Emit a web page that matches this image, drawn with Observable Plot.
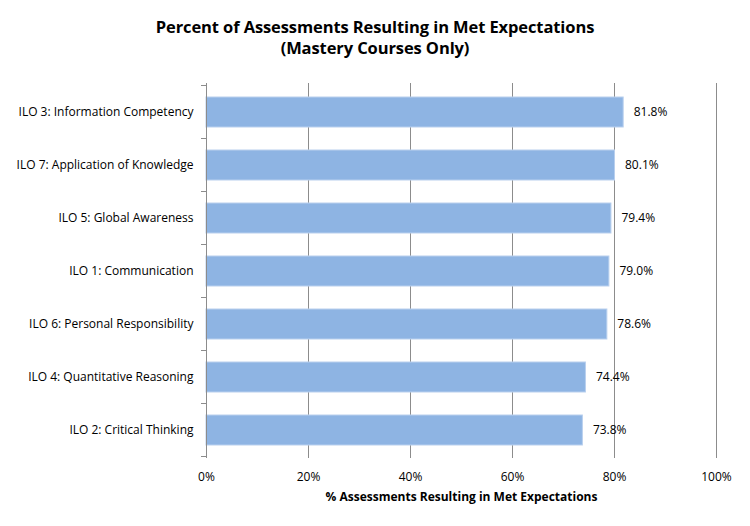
<!DOCTYPE html>
<html>
<head>
<meta charset="utf-8">
<script src="https://cdn.jsdelivr.net/npm/d3@7"></script>
<script src="https://cdn.jsdelivr.net/npm/@observablehq/plot@0.6"></script>
<style>
  body { margin: 0; background: #fff; width: 750px; }
  #title { font-family: "Open Sans", Lato, sans-serif; font-weight: bold; font-size: 16.5px; text-align: center; line-height: 21px; padding-top: 16px; height: 54px; color: #000; letter-spacing: -0.1px; }
  svg { display: block; }
</style>
</head>
<body>
<div id="title">Percent of Assessments Resulting in Met Expectations<br>(Mastery Courses Only)</div>
<div id="chart"></div>
<script>
const categories = [
  "ILO 3: Information Competency",
  "ILO 7: Application of Knowledge",
  "ILO 5: Global Awareness",
  "ILO 1: Communication",
  "ILO 6: Personal Responsibility",
  "ILO 4: Quantitative Reasoning",
  "ILO 2: Critical Thinking"
];
const values = [0.818, 0.801, 0.794, 0.790, 0.786, 0.744, 0.738];
const xTicks = [0, 0.2, 0.4, 0.6, 0.8, 1.0];
const xTitle = "% Assessments Resulting in Met Expectations";

const data = categories.map((c, i) => ({ilo: c, value: values[i]}));
const font = "'Open Sans', Lato, sans-serif";

const chart = Plot.plot({
  width: 750,
  height: 456,
  marginTop: 13,
  marginBottom: 68,
  marginLeft: 206,
  marginRight: 34,
  style: { fontFamily: font, fontSize: "12px", color: "#000" },
  x: { domain: [0, 1], ticks: xTicks, tickFormat: d3.format(".0%"), label: null },
  y: { domain: categories, paddingInner: 0.44, paddingOuter: 0.22, label: null },
  marks: [
    Plot.ruleX(xTicks.filter(d => d > 0), { stroke: "#8c8c8c", strokeWidth: 1 }),
    Plot.barX(data, { x: "value", y: "ilo", fill: "#8EB4E3", stroke: "#b9d0ee", strokeWidth: 1 }),
    Plot.text(data, { x: "value", y: "ilo", text: d => d3.format(".1%")(d.value), dx: 10, textAnchor: "start", fontSize: 12, fill: "#000" }),
    Plot.ruleX([0], { stroke: "#8c8c8c", strokeWidth: 1 }),
    Plot.axisX({ ticks: xTicks, tickFormat: d3.format(".0%"), tickSize: 0, tickPadding: 14, fontSize: 12, label: null }),
    Plot.axisY({ tickSize: 0, tickPadding: 13, fontSize: 12, label: null }),
    Plot.text([xTitle], { frameAnchor: "bottom", dy: 42, fontWeight: "bold", fontSize: 12, fill: "#000" })
  ]
});
document.getElementById("chart").appendChild(chart);

// small tick marks at band boundaries on the y axis, placed with the chart's own scales
const yScale = chart.scale("y");
const xScale = chart.scale("x");
const svg = d3.select(chart);
const step = yScale.step;
const x0 = xScale.apply(0);
const bounds = categories.map(c => yScale.apply(c) - (step - yScale.bandwidth) / 2);
bounds.push(bounds[bounds.length - 1] + step);
svg.append("g").selectAll("line").data(bounds).join("line")
  .attr("x1", x0 - 5).attr("x2", x0).attr("y1", d => d).attr("y2", d => d)
  .attr("stroke", "#8c8c8c");
</script>
</body>
</html>
